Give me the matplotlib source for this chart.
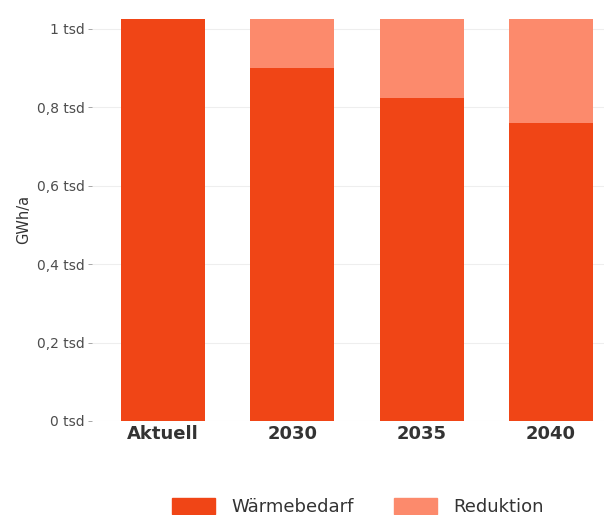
import matplotlib
matplotlib.use("Agg")
import matplotlib.pyplot as plt
from matplotlib.patches import Patch
from matplotlib.ticker import FuncFormatter

# Heat demand scenarios (GWh/a)
categories = ["Aktuell", "2030", "2035", "2040"]
waermebedarf = [1026, 900, 824, 761]
gesamt = [1026, 1026, 1026, 1026]
reduktion = [g - w for g, w in zip(gesamt, waermebedarf)]
yticks = [0, 200, 400, 600, 800, 1000]

col_dark = "#F04516"
col_light = "#FC8A6C"

W, H = 604, 515
fig = plt.figure(figsize=(W / 100, H / 100), dpi=100)

# panel placement in pixels
left_px, right_px = 92, 622
bottom_px, top_px = 421, 17
ax = fig.add_axes([left_px / W, 1 - bottom_px / H,
                   (right_px - left_px) / W, (bottom_px - top_px) / H])

x = list(range(len(categories)))
ax.bar(x, waermebedarf, width=0.65, color=col_dark, zorder=2)
ax.bar(x, reduktion, bottom=waermebedarf, width=0.65, color=col_light, zorder=2)

ax.set_xlim(-0.55, 3.55)
ax.set_ylim(0, 1030.6)
ax.set_yticks(yticks)


def fmt(v, _):
    s = f"{v / 1000:g}".replace(".", ",")
    return f"{s} tsd"


ax.yaxis.set_major_formatter(FuncFormatter(fmt))
ax.set_xticks(x)
ax.set_xticklabels(categories, fontsize=13, fontweight="bold", color="#333333")
ax.tick_params(axis="x", length=0, pad=3)
ax.tick_params(axis="y", length=3, width=0.6, color="#999999",
               labelsize=10, labelcolor="#4d4d4d", pad=2)

for s in ax.spines.values():
    s.set_visible(False)
ax.grid(axis="y", color="#eeeeee", linewidth=0.8, zorder=0)
ax.set_axisbelow(True)

ax.set_ylabel("GWh/a", fontsize=10.5, color="#333333", labelpad=4)

handles = [Patch(color=col_dark, label="Wärmebedarf"),
           Patch(color=col_light, label="Reduktion")]
fig.legend(handles=handles, loc="center", ncol=2, frameon=False,
           bbox_to_anchor=(358 / W, 1 - 507 / H), fontsize=13,
           handlelength=2.4, handleheight=1.0, columnspacing=2.2,
           handletextpad=0.9, labelcolor="#333333")

fig.savefig("out.png", dpi=100)
